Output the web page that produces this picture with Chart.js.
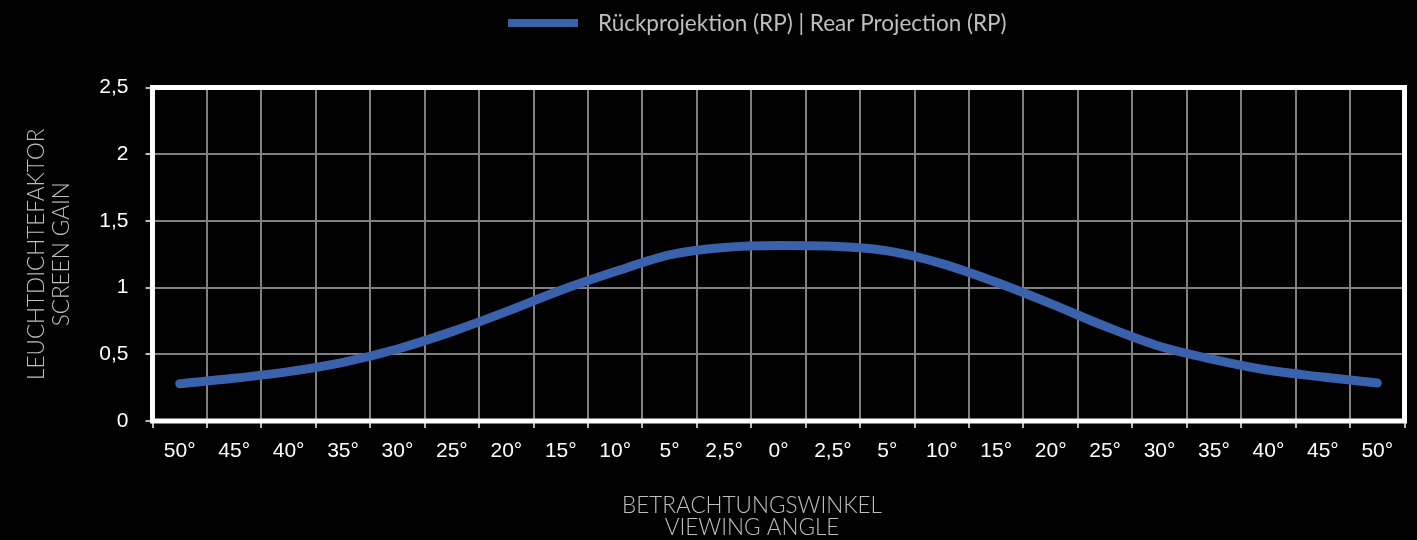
<!DOCTYPE html>
<html>
<head>
<meta charset="utf-8">
<script src="https://cdn.jsdelivr.net/npm/chart.js@4"></script>
<style>
  html, body { margin: 0; padding: 0; background: #000; }
  #wrap { position: relative; width: 1417px; height: 540px; }
</style>
</head>
<body>
<div id="wrap"><canvas id="gain" width="1417" height="540"></canvas></div>
<script>
// ── Screen gain vs. viewing angle ──────────────────
const angleLabels = ['50°','45°','40°','35°','30°','25°','20°','15°','10°','5°','2,5°','0°',
                     '2,5°','5°','10°','15°','20°','25°','30°','35°','40°','45°','50°'];
const rearGain = [0.28, 0.32, 0.37, 0.44, 0.54, 0.67, 0.82, 0.98, 1.12, 1.245, 1.30, 1.315,
                  1.31, 1.275, 1.18, 1.04, 0.88, 0.71, 0.56, 0.46, 0.38, 0.33, 0.285];
const gainTicks = [0, 0.5, 1, 1.5, 2, 2.5];

const seriesLabel = 'Rückprojektion (RP) | Rear Projection (RP)';
const yTitle = ['LEUCHTDICHTEFAKTOR', 'SCREEN GAIN'];
const xTitle = ['BETRACHTUNGSWINKEL', 'VIEWING ANGLE'];

const LINE = '#3a61ab';
const GRID = '#808080';
const SOFT = '#bfbfbf';
const TICK_FONT = { family: '"Liberation Sans", Arial, sans-serif', size: 21 };
const TITLE_FONT = '300 22.5px Lato, sans-serif';

// white frame round the plot area
const frame = {
  id: 'frame',
  beforeDatasetsDraw(chart) {
    const { ctx, chartArea: a } = chart;
    ctx.save();
    ctx.strokeStyle = '#fff';
    ctx.lineWidth = 5;
    ctx.strokeRect(a.left, a.top, a.right - a.left, a.bottom - a.top);
    ctx.restore();
  }
};

// legend line + caption, and the two-line x title
const captions = {
  id: 'captions',
  afterDraw(chart) {
    const { ctx } = chart;
    ctx.save();
    ctx.fillStyle = LINE;
    ctx.fillRect(508, 19, 70, 8);
    ctx.fillStyle = SOFT;
    ctx.font = '400 22.5px Lato, sans-serif';
    ctx.textBaseline = 'middle';
    ctx.textAlign = 'left';
    ctx.fillText(chart.data.datasets[0].label, 598, 24);
    ctx.font = TITLE_FONT;
    ctx.textAlign = 'center';
    xTitle.forEach((t, i) => ctx.fillText(t, 752, 506 + i * 22));
    ctx.restore();
  }
};

new Chart(document.getElementById('gain'), {
  type: 'line',
  data: {
    labels: angleLabels,
    datasets: [{
      label: seriesLabel,
      data: rearGain,
      borderColor: LINE,
      backgroundColor: LINE,
      borderWidth: 9,
      borderCapStyle: 'round',
      cubicInterpolationMode: 'monotone',
      pointRadius: 0,
      fill: false,
    }]
  },
  options: {
    responsive: false,
    animation: false,
    layout: { padding: { top: 87.5, right: 12.5, bottom: 0, left: 0 } },
    plugins: { legend: { display: false }, tooltip: { enabled: false } },
    scales: {
      x: {
        offset: true,
        grid: { offset: true, color: GRID, lineWidth: 2, tickLength: 7, tickColor: '#bbb' },
        border: { display: false },
        ticks: { color: '#fff', font: TICK_FONT, padding: 11, maxRotation: 0, autoSkip: false },
        afterFit: s => { s.height = 119; },
      },
      y: {
        min: 0,
        max: 2.5,
        afterBuildTicks: s => { s.ticks = gainTicks.map(v => ({ value: v })); },
        grid: { color: GRID, lineWidth: 2, tickLength: 7, tickColor: '#bbb' },
        border: { display: false },
        ticks: { color: '#fff', font: TICK_FONT, padding: 17, callback: v => String(v).replace('.', ',') },
        title: {
          display: true,
          text: yTitle,
          color: SOFT,
          font: { family: 'Lato, sans-serif', size: 22.5, weight: 300, lineHeight: '25px' },
          padding: { top: 24, bottom: 0 },
        },
        afterFit: s => { s.width = 152.5; },
      }
    }
  },
  plugins: [frame, captions]
});
</script>
</body>
</html>
